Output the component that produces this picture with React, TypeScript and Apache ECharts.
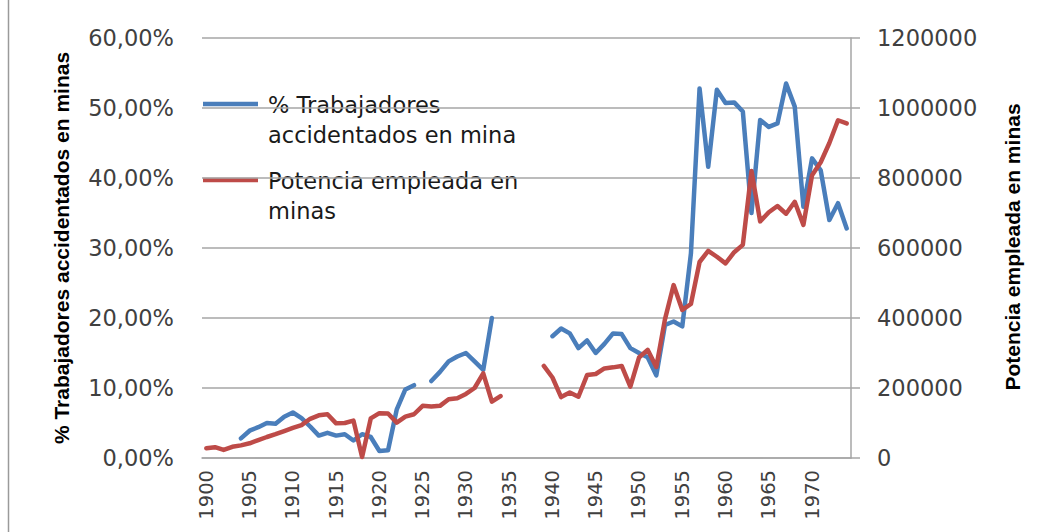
import React, { useEffect, useRef } from "react";
import * as echarts from "echarts";

const years: string[] = [];
for (let y = 1900; y <= 1974; y++) years.push(String(y));

// % Trabajadores accidentados en mina (1900..1974)
const accidentados: (number | null)[] = [
  null, null, null, null, 2.8, 3.9, 4.4, 5.0, 4.9, 5.9,
  6.5, 5.7, 4.5, 3.2, 3.6, 3.2, 3.4, 2.5, 3.4, 3.0,
  1.0, 1.1, 6.9, 9.8, 10.4, null, 11.0, 12.3, 13.8, 14.5,
  15.0, 13.8, 12.6, 20.0, null, null, null, null, null, null,
  17.4, 18.5, 17.8, 15.7, 16.8, 15.0, 16.3, 17.8, 17.7, 15.7,
  15.0, 14.4, 11.8, 19.0, 19.5, 18.8, 29.2, 52.8, 41.6, 52.6,
  50.7, 50.8, 49.5, 35.0, 48.3, 47.3, 47.8, 53.5, 50.2, 35.9,
  42.8, 41.1, 34.0, 36.4, 32.8,
];

// Potencia empleada en minas (1900..1974)
const potencia: (number | null)[] = [
  28000, 31000, 23000, 32000, 36000, 42000, 51000, 60000, 68000, 77000,
  86000, 94000, 112000, 122000, 125000, 99000, 100000, 107000, 3000, 113000,
  128000, 127000, 101000, 118000, 125000, 149000, 147000, 149000, 168000, 171000,
  183000, 200000, 242000, 161000, 177000, null, null, null, null, 263000,
  230000, 174000, 187000, 175000, 237000, 240000, 256000, 259000, 263000, 204000,
  287000, 309000, 260000, 396000, 494000, 423000, 440000, 560000, 592000, 575000,
  556000, 588000, 609000, 820000, 676000, 702000, 720000, 698000, 732000, 666000,
  808000, 845000, 900000, 965000, 956000,
];

const legendNames = ["% Trabajadores\naccidentados en mina", "Potencia empleada en\nminas"];
const leftTitle = "% Trabajadores accidentados en minas";
const rightTitle = "Potencia empleada en minas";

const BLUE = "#4A7EBB";
const RED = "#BE4B48";
const GRID = "#A6A6A6";
const TXT = "#404040";
const FONT = "DejaVu Sans";

export default function App() {
  const ref = useRef<HTMLDivElement>(null);
  useEffect(() => {
    if (!ref.current) return;
    const chart = echarts.init(ref.current, undefined, { renderer: "svg" });
    const legendLine = (y: number, color: string) => ({
      type: "line",
      shape: { x1: 203, y1: y, x2: 258, y2: y },
      style: { stroke: color, lineWidth: 4.5 },
    });
    const legendText = (y: number, text: string) => ({
      type: "text",
      x: 268,
      y,
      style: {
        text,
        fill: "#1a1a1a",
        font: `22.5px "${FONT}"`,
        lineHeight: 30,
        verticalAlign: "top",
        align: "left",
      },
    });
    chart.setOption({
      animation: false,
      backgroundColor: "#ffffff",
      grid: { left: 202, right: 198, top: 38, bottom: 74, containLabel: false },
      xAxis: {
        type: "category",
        data: years,
        boundaryGap: true,
        axisLine: { show: true, lineStyle: { color: GRID, width: 1.5 } },
        axisTick: { show: false },
        axisLabel: {
          interval: 4,
          rotate: 90,
          margin: 12,
          color: TXT,
          fontFamily: FONT,
          fontSize: 19.5,
        },
        splitLine: { show: false },
      },
      yAxis: [
        {
          type: "value",
          min: 0,
          max: 60,
          interval: 10,
          position: "left",
          axisLine: { show: false },
          axisTick: { show: false },
          axisLabel: {
            margin: 28,
            color: TXT,
            fontFamily: FONT,
            fontSize: 22.5,
            formatter: (v: number) => v.toFixed(2).replace(".", ",") + "%",
          },
          splitLine: { show: true, lineStyle: { color: GRID, width: 1.5 } },
        },
        {
          type: "value",
          min: 0,
          max: 1200000,
          interval: 200000,
          position: "right",
          axisLine: { show: true, lineStyle: { color: GRID, width: 1.5 } },
          axisTick: { show: true, inside: false, length: 9, lineStyle: { color: GRID, width: 1.5 } },
          axisLabel: {
            margin: 26,
            color: TXT,
            fontFamily: FONT,
            fontSize: 22.5,
            formatter: (v: number) => String(v),
          },
          splitLine: { show: false },
        },
      ],
      series: [
        {
          name: "% Trabajadores accidentados en mina",
          type: "line",
          yAxisIndex: 0,
          data: accidentados,
          showSymbol: false,
          symbol: "none",
          connectNulls: false,
          lineStyle: { color: BLUE, width: 4.5, cap: "round", join: "round" },
          itemStyle: { color: BLUE },
          z: 3,
        },
        {
          name: "Potencia empleada en minas",
          type: "line",
          yAxisIndex: 1,
          data: potencia,
          showSymbol: false,
          symbol: "none",
          connectNulls: false,
          lineStyle: { color: RED, width: 4.5, cap: "round", join: "round" },
          itemStyle: { color: RED },
          z: 4,
        },
      ],
      graphic: [
        {
          type: "line",
          shape: { x1: 8.5, y1: 0, x2: 8.5, y2: 532 },
          style: { stroke: "#9a9a9a", lineWidth: 1.5 },
        },
        legendLine(104, BLUE),
        legendText(90, legendNames[0]),
        legendLine(180, RED),
        legendText(166, legendNames[1]),
        {
          type: "text",
          x: 61,
          y: 248,
          rotation: Math.PI / 2,
          style: {
            text: leftTitle,
            fill: "#000000",
            font: `bold 21px "Liberation Sans"`,
            align: "center",
            verticalAlign: "middle",
          },
        },
        {
          type: "text",
          x: 1012,
          y: 247,
          rotation: Math.PI / 2,
          style: {
            text: rightTitle,
            fill: "#000000",
            font: `bold 21px "Liberation Sans"`,
            align: "center",
            verticalAlign: "middle",
          },
        },
      ],
    });
    return () => chart.dispose();
  }, []);
  return (
    <div
      ref={ref}
      style={{ position: "fixed", left: 0, top: 0, width: 1049, height: 532 }}
    />
  );
}
